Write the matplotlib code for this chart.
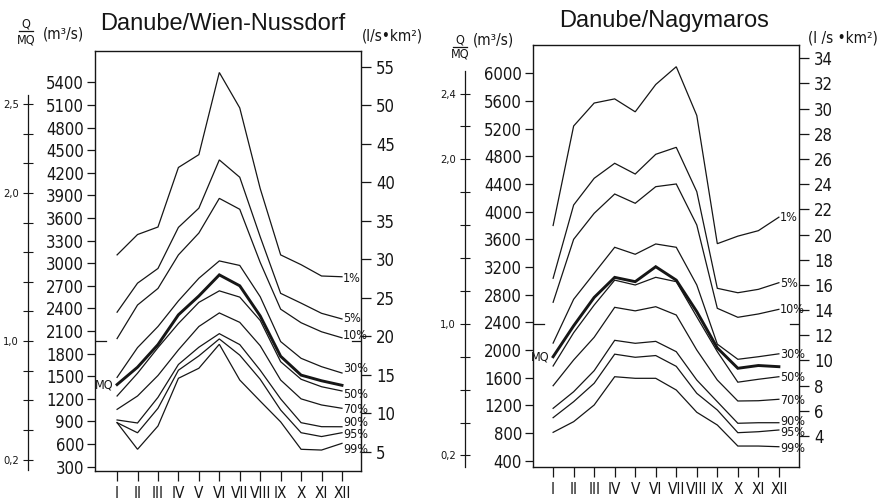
import matplotlib

matplotlib.use("Agg")

import matplotlib.pyplot as plt
from matplotlib import font_manager
from matplotlib.lines import Line2D

W, H = 882, 503
INK = "#161616"

MONTHS = ["I", "II", "III", "IV", "V", "VI", "VII", "VIII", "IX", "X", "XI", "XII"]
PCT_LABELS = ["1%", "5%", "10%", "30%", "50%", "70%", "90%", "95%", "99%"]

# Danube / Wien-Nussdorf, monthly discharge (m3/s) by exceedance percentile
wien_p1 = [3110, 3380, 3480, 4270, 4440, 5530, 5060, 3990, 3110, 2980, 2830, 2820]
wien_p5 = [2350, 2735, 2930, 3475, 3730, 4370, 4140, 3350, 2600, 2470, 2335, 2260]
wien_p10 = [2000, 2445, 2665, 3110, 3400, 3860, 3715, 3010, 2390, 2210, 2090, 2010]
wien_p30 = [1485, 1880, 2160, 2500, 2800, 3030, 2970, 2555, 1960, 1738, 1627, 1543]
wien_p50 = [1238, 1540, 1880, 2200, 2480, 2633, 2550, 2240, 1693, 1460, 1361, 1305]
wien_p70 = [1061, 1238, 1510, 1850, 2160, 2340, 2215, 1905, 1450, 1200, 1119, 1075]
wien_p90 = [920, 880, 1220, 1656, 1885, 2065, 1920, 1580, 1200, 884, 831, 830]
wien_p95 = [884, 750, 1075, 1580, 1770, 1995, 1780, 1460, 1052, 751, 700, 751]
wien_p99 = [884, 531, 840, 1473, 1606, 1924, 1450, 1170, 895, 531, 521, 610]
wien_mean = [1390, 1620, 1920, 2315, 2565, 2845, 2700, 2300, 1765, 1515, 1440, 1380]
wien_mq = 1966

# Danube / Nagymaros
nagy_p1 = [3800, 5238, 5570, 5630, 5443, 5838, 6095, 5390, 3537, 3646, 3725, 3920]
nagy_p5 = [3037, 4096, 4482, 4699, 4544, 4829, 4930, 4289, 2892, 2828, 2877, 2973]
nagy_p10 = [2690, 3600, 3976, 4255, 4121, 4361, 4400, 3807, 2603, 2473, 2521, 2588]
nagy_p30 = [2100, 2733, 3109, 3485, 3384, 3533, 3485, 2940, 2085, 1866, 1903, 1945]
nagy_p50 = [1769, 2250, 2650, 3010, 2940, 3051, 2988, 2480, 1976, 1535, 1577, 1614]
nagy_p70 = [1484, 1856, 2184, 2617, 2566, 2626, 2506, 2000, 1566, 1263, 1267, 1288]
nagy_p90 = [1157, 1397, 1701, 2140, 2097, 2125, 1976, 1566, 1253, 941, 949, 949]
nagy_p95 = [1022, 1253, 1519, 1940, 1895, 1920, 1764, 1374, 1133, 805, 819, 844]
nagy_p99 = [810, 964, 1205, 1614, 1591, 1591, 1422, 1100, 916, 612, 612, 602]
nagy_mean = [1903, 2350, 2760, 3050, 2988, 3204, 3010, 2555, 2030, 1736, 1776, 1759]
nagy_mq = 2378

wien_q_ticks = [300 * k for k in range(1, 19)]
nagy_q_ticks = [400 * k for k in range(1, 16)]
wien_spec_ticks = [5, 10, 15, 20, 25, 30, 35, 40, 45, 50, 55]
nagy_spec_ticks = [4, 6, 8, 10, 12, 14, 16, 18, 20, 22, 24, 26, 28, 30, 32, 34]
wien_ratio_minor = [0.2, 0.4, 0.6, 0.8, 1.0, 1.2, 1.4, 1.6, 1.8, 2.0, 2.2, 2.4, 2.6]
wien_ratio_major = [0.2, 1.0, 2.0, 2.6]
wien_ratio_labels = ["0,2", "1,0", "2,0", "2,5"]
nagy_ratio_minor = [0.2, 0.4, 0.6, 0.8, 1.0, 1.2, 1.4, 1.6, 1.8, 2.0, 2.2, 2.4]
nagy_ratio_major = [0.2, 1.0, 2.0, 2.4]
nagy_ratio_labels = ["0,2", "1,0", "2,0", "2,4"]

names = {f.name for f in font_manager.fontManager.ttflist}
if "Liberation Sans Narrow" in names:
    NARROW = "Liberation Sans Narrow"
else:
    NARROW = "DejaVu Sans"
    plt.rcParams["font.stretch"] = "condensed"
TITLE_FONT = "Liberation Sans" if "Liberation Sans" in names else "DejaVu Sans"
plt.rcParams["font.family"] = [NARROW, "DejaVu Sans"]


def px_rect(left, top, right, bottom):
    return [left / W, 1 - bottom / H, (right - left) / W, (bottom - top) / H]


def fig_text(fig, x, y, text, **kw):
    fig.text(x / W, 1 - y / H, text, **kw)


def draw_panel(fig, cfg):
    ax = fig.add_axes(px_rect(*cfg["rect"]))
    months = list(range(1, 13))
    ax.set_xlim(*cfg["xlim"])
    ax.set_ylim(*cfg["ylim"])
    for spine in ax.spines.values():
        spine.set_linewidth(1.0)
        spine.set_color(INK)

    for values, label, dy in zip(cfg["series"], PCT_LABELS, cfg["label_dy"]):
        ax.plot(months, values, color=INK, linewidth=0.9, solid_joinstyle="miter")
        ax.annotate(label, xy=(12, values[-1]), xytext=(1, dy), textcoords="offset pixels",
                    ha="left", va="center", fontsize=9, color=INK)
    ax.plot(months, cfg["mean"], color=INK, linewidth=2.1, solid_joinstyle="miter")
    ax.annotate("MQ", xy=(1, cfg["mean"][0]), xytext=(-4, 0), textcoords="offset pixels",
                ha="right", va="center", fontsize=9, color=INK)

    # mean annual discharge marks on both frame sides
    ax.axhline(cfg["mq"], xmin=0, xmax=0.04, color=INK, linewidth=0.9)
    ax.axhline(cfg["mq"], xmin=0.965, xmax=1, color=INK, linewidth=0.9)

    ax.set_xticks(months, MONTHS)
    ax.tick_params(axis="x", direction="out", length=7, width=0.9, pad=4,
                   labelsize=11, color=INK, labelcolor=INK)
    ax.set_yticks(cfg["q_ticks"])
    ax.tick_params(axis="y", direction="out", length=6, width=0.9, pad=2,
                   labelsize=12, color=INK, labelcolor=INK)

    a, b = cfg["spec_scale"]
    spec = ax.twinx()
    spec.set_ylim((cfg["ylim"][0] - b) / a, (cfg["ylim"][1] - b) / a)
    spec.set_yticks(cfg["spec_ticks"])
    spec.tick_params(axis="y", direction="out", length=7, width=0.9, pad=4,
                     labelsize=12, color=INK, labelcolor=INK)
    for spine in spec.spines.values():
        spine.set_visible(False)

    ratio = ax.twinx()
    for name in ("top", "right", "bottom"):
        ratio.spines[name].set_visible(False)
    ratio.spines["left"].set_visible(True)
    ratio.spines["left"].set_position(("outward", cfg["ratio_out"] * 0.72))
    ratio.spines["left"].set_linewidth(0.9)
    ratio.spines["left"].set_color(INK)
    ratio.yaxis.tick_left()
    ratio.set_ylim(cfg["ylim"][0] / cfg["mq"], cfg["ylim"][1] / cfg["mq"])
    ratio.set_yticks(cfg["ratio_major"], cfg["ratio_labels"])
    ratio.set_yticks(cfg["ratio_minor"], minor=True)
    ratio.spines["left"].set_bounds(*cfg["ratio_bounds"])
    ratio.tick_params(axis="y", which="both", direction="inout", length=7, width=0.8,
                      pad=3, labelsize=8, color=INK, labelcolor=INK)
    return ax


fig = plt.figure(figsize=(W / 100, H / 100), dpi=100)
fig.patch.set_facecolor("white")

wien = {
    "rect": (95, 51, 361, 471),
    "xlim": (-0.08, 12.93),
    "ylim": (243, 5815),
    "series": [wien_p1, wien_p5, wien_p10, wien_p30, wien_p50, wien_p70, wien_p90, wien_p95, wien_p99],
    "label_dy": [-2, 0, 2, 5, -4, -1, 4, -2, -6],
    "mean": wien_mean,
    "mq": wien_mq,
    "q_ticks": wien_q_ticks,
    "spec_scale": (102.2, -12),
    "spec_ticks": wien_spec_ticks,
    "ratio_out": 67,
    "ratio_major": wien_ratio_major,
    "ratio_labels": wien_ratio_labels,
    "ratio_minor": wien_ratio_minor,
    "ratio_bounds": (0.13, 2.66),
}
nagy = {
    "rect": (533, 45, 799, 467),
    "xlim": (0.02, 12.98),
    "ylim": (309, 6409),
    "series": [nagy_p1, nagy_p5, nagy_p10, nagy_p30, nagy_p50, nagy_p70, nagy_p90, nagy_p95, nagy_p99],
    "label_dy": [0, -1, 0, -1, -1, -1, 1, -3, -2],
    "mean": nagy_mean,
    "mq": nagy_mq,
    "q_ticks": nagy_q_ticks,
    "spec_scale": (182, 29),
    "spec_ticks": nagy_spec_ticks,
    "ratio_out": 68,
    "ratio_major": nagy_ratio_major,
    "ratio_labels": nagy_ratio_labels,
    "ratio_minor": nagy_ratio_minor,
    "ratio_bounds": (0.13, 2.54),
}
draw_panel(fig, wien)
draw_panel(fig, nagy)

# headings
fig_text(fig, 223, 24, "Danube/Wien-Nussdorf", ha="center", va="center",
         fontsize=17, family=TITLE_FONT, color=INK)
fig_text(fig, 664, 21, "Danube/Nagymaros", ha="center", va="center",
         fontsize=17, family=TITLE_FONT, color=INK)

fig_text(fig, 26, 24, "Q", ha="center", va="center", fontsize=9, color=INK)
fig_text(fig, 26, 40, "MQ", ha="center", va="center", fontsize=9, color=INK)
fig.add_artist(Line2D([19 / W, 33 / W], [1 - 31 / H, 1 - 31 / H], color=INK, linewidth=0.9))
fig_text(fig, 43, 34, "(m³/s)", ha="left", va="center", fontsize=11, color=INK)
fig_text(fig, 362, 36, "(l/s•km²)", ha="left", va="center", fontsize=11, color=INK)

fig_text(fig, 460, 40, "Q", ha="center", va="center", fontsize=9, color=INK)
fig_text(fig, 460, 54, "MQ", ha="center", va="center", fontsize=9, color=INK)
fig.add_artist(Line2D([453 / W, 467 / W], [1 - 47 / H, 1 - 47 / H], color=INK, linewidth=0.9))
fig_text(fig, 473, 40, "(m³/s)", ha="left", va="center", fontsize=11, color=INK)
fig_text(fig, 808, 38, "(l /s •km²)", ha="left", va="center", fontsize=11, color=INK)

fig.savefig("out.png", dpi=100, facecolor="white")
